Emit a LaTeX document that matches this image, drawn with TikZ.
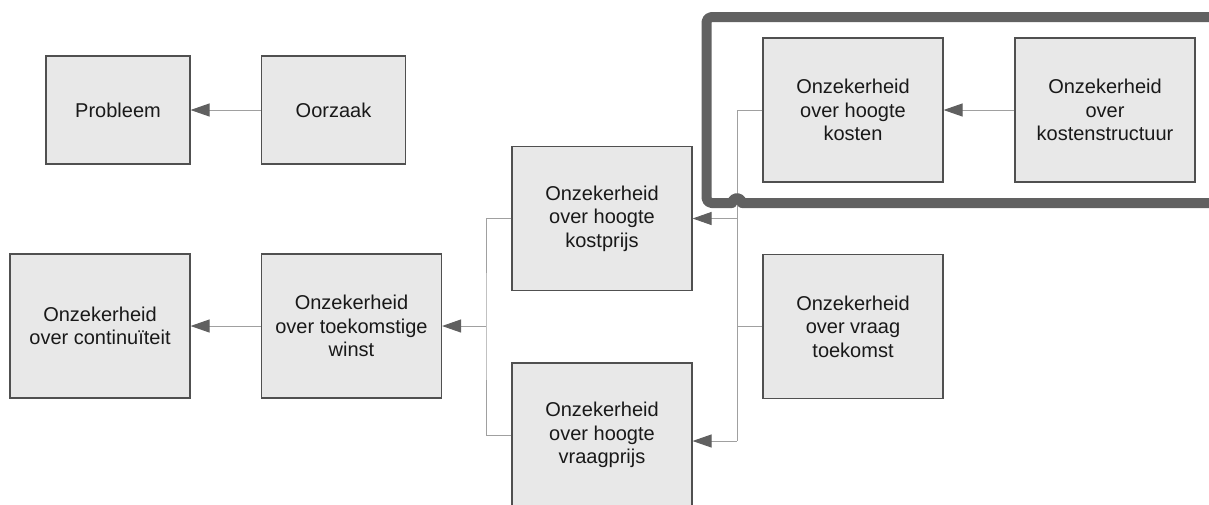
\documentclass[tikz,border=0pt]{standalone}
\usepackage{fontspec}
\setmainfont{Liberation Sans}
\usetikzlibrary{arrows.meta}
\definecolor{boxfill}{HTML}{E8E8E8}
\definecolor{boxline}{HTML}{505050}
\definecolor{linkgray}{HTML}{A0A0A0}
\definecolor{tipgray}{HTML}{606060}
\definecolor{framegray}{HTML}{616161}
\begin{document}
\begin{tikzpicture}[x=1pt,y=-1pt,
  box/.style={draw=boxline, line width=1.1pt, fill=boxfill,
    minimum width=180pt, minimum height=144pt, inner sep=0pt,
    align=center, font=\fontsize{20}{23.5}\selectfont, text=black!90},
  smallbox/.style={box, minimum width=144pt, minimum height=108pt},
  link/.style={draw=linkgray, line width=1pt},
  tip/.style={link, -{Triangle[length=19pt,width=13pt,color=tipgray]}},
  frameline/.style={draw=framegray, line width=10pt, line cap=round, line join=round}
]
\useasboundingbox (0,0) rectangle (1209,504);
\clip (0,0) rectangle (1209,504);

% legend pair
\node[smallbox] (prob) at (118,110) {Probleem};
\node[smallbox] (oorz) at (333.5,110) {Oorzaak};

% main chain
\node[box] (cont)   at (100,326)   {Onzekerheid\\over continuïteit};
\node[box] (winst)  at (351.5,326) {Onzekerheid\\over toekomstige\\winst};
\node[box] (kostp)  at (602,218.5) {Onzekerheid\\over hoogte\\kostprijs};
\node[box] (vraagp) at (602,435)   {Onzekerheid\\over hoogte\\vraagprijs};
\node[box] (kosten) at (853,110)   {Onzekerheid\\over hoogte\\kosten};
\node[box] (struct) at (1105,110)  {Onzekerheid\\over\\kostenstructuur};
\node[box] (vraagt) at (853,326.5) {Onzekerheid\\over vraag\\toekomst};

% junction points of the branching connectors
\coordinate (jl) at (486,326);
\coordinate (jr) at (737,326.5);
\coordinate (jb) at (737,441);

\draw[tip] (oorz.west) -- (prob.east);
\draw[tip] (winst.west) -- (cont.east);
\draw[tip] (struct.west) -- (kosten.east);

\draw[link] (kostp.west) -| (jl) |- (vraagp.west);
\draw[tip] (jl) -- (winst.east);

\draw[link] (kosten.west) -| (jr) -- (jb);
\draw[link] (vraagt.west) -- (jr);
\draw[tip] (jr |- kostp.east) -- (kostp.east);
\draw[tip] (jb) -- (jb -| vraagp.east);

% thick grouping frame with a hop over the connector
\draw[frameline, rounded corners=5pt] (742,203) -- (1240,203) -- (1240,17) -- (706.5,17) -- (706.5,203) -- (732,203);
\draw[frameline] (732,203) arc[start angle=180, end angle=360, radius=5];
\end{tikzpicture}
\end{document}
